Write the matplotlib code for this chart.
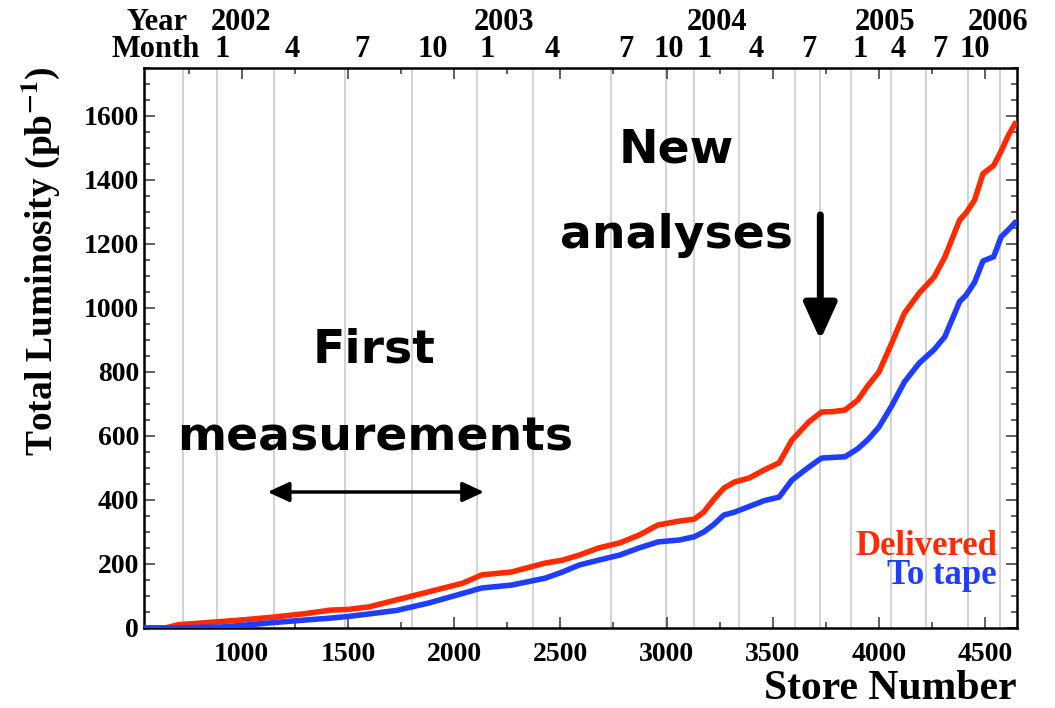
import matplotlib
matplotlib.use("Agg")
import matplotlib.pyplot as plt
from matplotlib.ticker import MultipleLocator

plt.rcParams['mathtext.fontset'] = 'stix'
plt.rcParams['mathtext.default'] = 'bf'

# ---------------- data ----------------
store = [540, 640, 700, 800, 900, 1000, 1150, 1300, 1420, 1500, 1600, 1730, 1880,
         2040, 2130, 2270, 2430, 2510, 2590, 2680, 2780, 2870, 2960, 3060, 3130,
         3175, 3220, 3270, 3320, 3390, 3460, 3530, 3590, 3670, 3730, 3780, 3840,
         3900, 3950, 4000, 4060, 4120, 4190, 4260, 4310, 4380, 4410, 4450, 4490,
         4540, 4575, 4610, 4640]
delivered = [0, 0, 10, 15, 20, 25, 34, 45, 56, 58, 66, 88, 113,
             140, 166, 175, 203, 212, 228, 250, 266, 290, 322, 334, 340,
             362, 400, 437, 456, 469, 494, 516, 587, 644, 675, 676, 681,
             712, 759, 800, 890, 984, 1047, 1097, 1159, 1275, 1297, 1337, 1420,
             1445, 1490, 1540, 1575]
to_tape = [0, 0, 0, 2, 3, 8, 17, 25, 31, 36, 44, 55, 78,
           108, 125, 134, 156, 175, 197, 212, 228, 250, 269, 275, 285,
           300, 322, 353, 362, 380, 398, 409, 462, 503, 531, 533, 535,
           560, 590, 628, 694, 769, 828, 870, 910, 1020, 1040, 1080, 1147,
           1160, 1222, 1245, 1266]

# month gridlines (store numbers)
grid_stores = [723, 883, 1150, 1484, 1803, 2108, 2372, 2738, 2996, 3128, 3339,
               3607, 3724, 3870, 4058, 4222, 4419, 4570]
month_labels = ["1", "4", "7", "10", "1", "4", "7", "10", "1", "4", "7",
                "1", "4", "7", "10"]
month_pos = [906, 1240, 1568, 1897, 2155, 2461, 2808, 3010, 3175, 3424, 3668,
             3912, 4091, 4288, 4452]
year_labels = ["2002", "2003", "2004", "2005", "2006"]
year_pos = [995, 2235, 3240, 4030, 4560]

series_names = ["Delivered", "To tape"]
colors = ["#ff2a00", "#1f3dff"]

# ---------------- figure ----------------
fig = plt.figure(figsize=(10.55, 7.08), dpi=100)
ax = fig.add_axes([0.1365, 0.113, 0.8275, 0.791])

for g in grid_stores:
    ax.axvline(g, color="#cfcfcf", lw=1.3, zorder=0)

ax.plot(store, delivered, color=colors[0], lw=4, zorder=3, solid_joinstyle="round")
ax.plot(store, to_tape, color=colors[1], lw=4, zorder=3, solid_joinstyle="round")

ax.set_xlim(540, 4650)
ax.set_ylim(0, 1750)

serif = "Liberation Serif"
ax.xaxis.set_major_locator(MultipleLocator(500))
ax.xaxis.set_minor_locator(MultipleLocator(250))
ax.yaxis.set_major_locator(MultipleLocator(200))
ax.yaxis.set_minor_locator(MultipleLocator(50))
ax.tick_params(which="both", direction="in", top=True, right=True, width=1.2, color="#444444")
ax.tick_params(which="major", length=8)
ax.tick_params(which="minor", length=4)
ax.tick_params(axis="x", pad=10)
for lab in ax.get_xticklabels() + ax.get_yticklabels():
    lab.set_fontfamily(serif)
    lab.set_fontweight("bold")
    lab.set_fontsize(20)
for s in ax.spines.values():
    s.set_linewidth(1.8)

ax.set_xlabel("Store Number", fontfamily=serif, fontweight="bold", fontsize=30, loc="right", labelpad=2)
ax.set_ylabel("Total Luminosity (pb$^{-1}$)", fontfamily=serif, fontweight="bold", fontsize=27)
ax.yaxis.set_label_coords(-0.094, 0.655)

# top labels
tr = ax.get_xaxis_transform()
top_font = dict(fontfamily=serif, fontweight="bold", fontsize=22, va="center", clip_on=False)
for lbl, p in zip(month_labels, month_pos):
    ax.text(p, 1.033, lbl, transform=tr, ha="center", **top_font)
for lbl, p in zip(year_labels, year_pos):
    ax.text(p, 1.082, lbl, transform=tr, ha="center", **top_font)
ax.text(601, 1.082, "Year", transform=tr, ha="center", **top_font)
ax.text(596, 1.033, "Month", transform=tr, ha="center", **top_font)

# legend text
ax.text(0.977, 0.146, series_names[0], transform=ax.transAxes, ha="right", va="center",
        color=colors[0], fontfamily=serif, fontweight="bold", fontsize=25)
ax.text(0.977, 0.093, series_names[1], transform=ax.transAxes, ha="right", va="center",
        color=colors[1], fontfamily=serif, fontweight="bold", fontsize=25)

# annotations
ann = dict(fontfamily="DejaVu Sans", fontweight="bold", fontsize=34, ha="center", va="center")
ax.text(1625, 869, "First", **ann)
ax.text(1630, 594, "measurements", **ann)
ax.annotate("", xy=(1122, 425), xytext=(2141, 425),
            arrowprops=dict(arrowstyle="<|-|>,head_length=1.3,head_width=0.6", color="black", lw=2.5,
                            shrinkA=0, shrinkB=0))
ax.text(3048, 1494, "New", **ann)
ax.text(3048, 1228, "analyses", **ann)
ax.annotate("", xy=(3724, 900), xytext=(3724, 1291),
            arrowprops=dict(arrowstyle="-|>,head_length=2.2,head_width=1.0", color="black", lw=5,
                            shrinkA=0, shrinkB=0))

fig.savefig("out.png", dpi=100)
